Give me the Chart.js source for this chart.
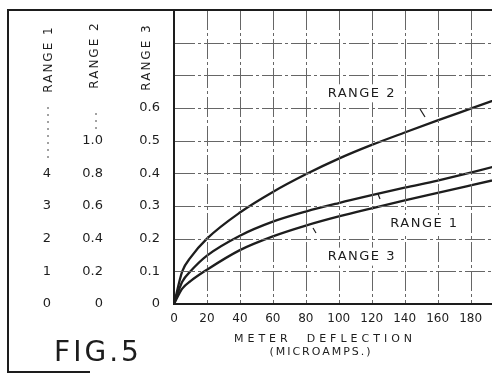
<!DOCTYPE html>
<html>
<head>
<meta charset="utf-8">
<script src="https://cdn.jsdelivr.net/npm/chart.js@4"></script>
<style>
  html, body { margin: 0; padding: 0; background: #fff; }
</style>
</head>
<body>
<canvas id="chart" width="492" height="375"></canvas>
<script>
// meter deflection (microamps) and the three range curves, each in its own scale units
const deflection = [0, 5, 10, 20, 40, 60, 80, 100, 120, 140, 160, 180, 200];
const range1 = [0, 0.68, 1.0, 1.48, 2.09, 2.52, 2.83, 3.09, 3.33, 3.56, 3.78, 4.02, 4.28];
const range2 = [0, 0.2, 0.284, 0.4, 0.56, 0.686, 0.794, 0.89, 0.974, 1.05, 1.124, 1.196, 1.268];
const range3 = [0, 0.047, 0.07, 0.105, 0.165, 0.207, 0.24, 0.268, 0.293, 0.317, 0.34, 0.363, 0.386];

const xTickLabels = ['0', '20', '40', '60', '80', '100', '120', '140', '160', '180'];
const range1Labels = ['0', '1', '2', '3', '4'];
const range2Labels = ['0', '0.2', '0.4', '0.6', '0.8', '1.0'];
const range3Labels = ['0', '0.1', '0.2', '0.3', '0.4', '0.5', '0.6'];

const FONT = '"DejaVu Sans", sans-serif';
const INK = '#1d1d1d';
const GRID = '#666666';

function toPoints(ys) {
    return deflection.map((x, i) => ({ x: x, y: ys[i] }));
}

function labelFrom(labels, step) {
    return value => {
        const i = Math.round(value / step);
        return labels[i] !== undefined ? labels[i] : '';
    };
}

function curve(label, ys, axis) {
    return {
        label: label,
        data: toPoints(ys),
        yAxisID: axis,
        borderColor: INK,
        borderWidth: 2.3,
        pointRadius: 0,
        fill: false,
        cubicInterpolationMode: 'monotone'
    };
}

function sideAxis(max, step, labels, width, weight, showBorder) {
    return {
        type: 'linear',
        position: 'left',
        min: 0,
        max: max,
        weight: weight,
        afterFit: s => {
            s.width = width;
            s.paddingTop = 0;
            s.paddingBottom = 0;
        },
        ticks: {
            stepSize: step,
            padding: 14,
            color: INK,
            font: { family: FONT, size: 13 },
            callback: labelFrom(labels, step)
        },
        grid: { display: false, drawTicks: false },
        border: { display: showBorder, color: INK, width: 2 }
    };
}

const plotLabels = [
    { text: 'RANGE 2', x: 114, y: 0.645, tick: [[420, 109], [425, 117]] },
    { text: 'RANGE 1', x: 152, y: 0.245, tick: [[378, 194], [380, 199]] },
    { text: 'RANGE 3', x: 114, y: 0.145, tick: [[313, 228], [316, 233]] }
];

const decor = {
    id: 'decor',
    afterDatasetsDraw(chart) {
        const { ctx, scales, chartArea: a } = chart;
        ctx.save();

        // grid from the x and range-3 scale ticks
        ctx.strokeStyle = GRID;
        ctx.lineWidth = 1;
        ctx.setLineDash([20, 3, 3, 3]);
        ctx.beginPath();
        scales.x.ticks.forEach(t => {
            if (t.value === 0) return;
            const px = Math.round(scales.x.getPixelForValue(t.value)) + 0.5;
            ctx.moveTo(px, a.top);
            ctx.lineTo(px, a.bottom - 1);
        });
        scales.y3.ticks.forEach(t => {
            if (t.value === 0) return;
            const py = Math.round(scales.y3.getPixelForValue(t.value)) + 0.5;
            ctx.moveTo(a.left + 1, py);
            ctx.lineTo(a.right, py);
        });
        ctx.stroke();
        ctx.setLineDash([]);

        // curve labels on white patches
        ctx.font = '13px ' + FONT;
        ctx.textAlign = 'center';
        ctx.textBaseline = 'middle';
        plotLabels.forEach(l => {
            const px = scales.x.getPixelForValue(l.x);
            const py = scales.y3.getPixelForValue(l.y);
            ctx.fillStyle = '#fff';
            ctx.fillRect(px - 40, py - 9, 80, 18);
            ctx.fillStyle = INK;
            ctx.letterSpacing = '1.5px';
            ctx.fillText(l.text, px, py);
            ctx.letterSpacing = '0px';
            ctx.strokeStyle = INK;
            ctx.lineWidth = 1.2;
            ctx.beginPath();
            ctx.moveTo(l.tick[0][0], l.tick[0][1]);
            ctx.lineTo(l.tick[1][0], l.tick[1][1]);
            ctx.stroke();
        });
        ctx.restore();
    },
    afterDraw(chart) {
        const { ctx, chartArea: a } = chart;
        ctx.save();

        // outer frame
        ctx.strokeStyle = INK;
        ctx.lineWidth = 2;
        ctx.beginPath();
        ctx.moveTo(8, a.top);
        ctx.lineTo(chart.width, a.top);
        ctx.moveTo(8, a.top - 1);
        ctx.lineTo(8, 372);
        ctx.lineTo(90, 372);
        ctx.stroke();

        // column headings for the three y scales
        ctx.fillStyle = INK;
        ctx.font = '12px ' + FONT;
        ctx.letterSpacing = '2px';
        ctx.textAlign = 'center';
        ctx.textBaseline = 'middle';
        [['RANGE 1', 49, 59], ['RANGE 2', 95, 55], ['RANGE 3', 147, 57]].forEach(([t, x, y]) => {
            ctx.save();
            ctx.translate(x, y);
            ctx.rotate(-Math.PI / 2);
            ctx.fillText(t, 0, 0);
            ctx.restore();
        });

        // dotted leaders under the headings
        ctx.strokeStyle = '#444';
        ctx.lineWidth = 1;
        ctx.setLineDash([2, 5]);
        ctx.beginPath();
        ctx.moveTo(48, 107);
        ctx.lineTo(48, 158);
        ctx.moveTo(96, 113);
        ctx.lineTo(96, 129);
        ctx.stroke();
        ctx.setLineDash([]);

        // x axis title
        const cx = (a.left + a.right) / 2 - 8;
        ctx.font = '11px ' + FONT;
        ctx.letterSpacing = '4px';
        ctx.fillText('METER  DEFLECTION', cx, 339);
        ctx.letterSpacing = '2px';
        ctx.fillText('(MICROAMPS.)', cx - 4, 352);

        // figure number
        ctx.font = '28px ' + FONT;
        ctx.letterSpacing = '3px';
        ctx.fillText('FIG.5', 98, 354);

        ctx.restore();
    }
};

const ctx = document.getElementById('chart').getContext('2d');

const chart = new Chart(ctx, {
    type: 'line',
    data: {
        datasets: [
            curve('Range 1', range1, 'y1'),
            curve('Range 2', range2, 'y2'),
            curve('Range 3', range3, 'y3')
        ]
    },
    options: {
        responsive: false,
        animation: false,
        devicePixelRatio: 1,
        layout: { padding: { top: 10, left: 10, right: 0, bottom: 0 } },
        plugins: {
            legend: { display: false },
            tooltip: { enabled: false }
        },
        scales: {
            x: {
                type: 'linear',
                min: 0,
                max: 193,
                afterFit: s => {
                    s.height = 71;
                    s.paddingLeft = 0;
                    s.paddingRight = 0;
                },
                ticks: {
                    stepSize: 20,
                    includeBounds: false,
                    padding: 8,
                    maxRotation: 0,
                    color: INK,
                    font: { family: FONT, size: 12 },
                    callback: labelFrom(xTickLabels, 20)
                },
                grid: { display: false, drawTicks: false },
                border: { color: INK, width: 2 }
            },
            y3: sideAxis(0.9, 0.1, range3Labels, 57, 0, true),
            y2: sideAxis(1.8, 0.2, range2Labels, 52, 1, false),
            y1: sideAxis(9, 1, range1Labels, 55, 2, false)
        }
    },
    plugins: [decor]
});
</script>
</body>
</html>
